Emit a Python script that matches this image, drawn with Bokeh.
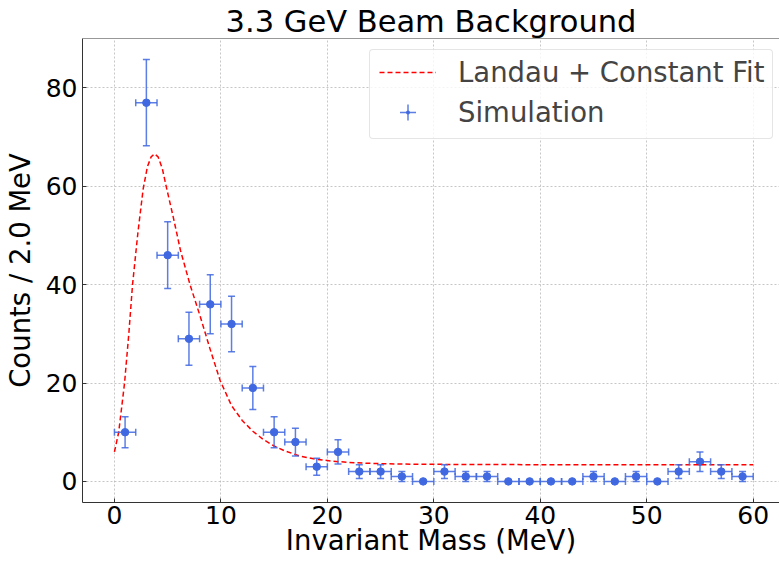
from bokeh.plotting import figure
from bokeh.models import (ColumnDataSource, Whisker, TeeHead, Legend, LegendItem,
                          Span, FixedTicker, Range1d)
from bokeh.embed import file_html
from bokeh.resources import INLINE

# ---- data ----
bin_width = 2.0
mass_centers = [1, 3, 5, 7, 9, 11, 13, 15, 17, 19, 21, 23, 25, 27, 29,
                31, 33, 35, 37, 39, 41, 43, 45, 47, 49, 51, 53, 55, 57, 59]
counts = [10, 77, 46, 29, 36, 32, 19, 10, 8, 3, 6, 2, 2, 1, 0,
          2, 1, 1, 0, 0, 0, 0, 1, 0, 1, 0, 2, 4, 2, 1]
count_err = [3.16, 8.77, 6.78, 5.39, 6.0, 5.66, 4.36, 3.16, 2.83, 1.73, 2.45, 1.41, 1.41, 1.0, 0.0,
             1.41, 1.0, 1.0, 0.0, 0.0, 0.0, 0.0, 1.0, 0.0, 1.0, 0.0, 1.41, 2.0, 1.41, 1.0]

fit_x = [0.0, 0.4, 0.95, 1.35, 1.7, 2.2, 2.7, 3.1, 3.45, 3.76, 4.1, 4.5, 4.86, 5.55, 6.2,
         7.1, 8.05, 9.0, 9.93, 11.0, 12.0, 13.0, 14.0, 15.0, 16.0, 17.5, 19.0, 20.5,
         22.5, 25.0, 28.0, 32.0, 40.0, 50.0, 60.0]
fit_y = [6.0, 10.0, 20.0, 30.0, 40.0, 50.5, 59.5, 64.0, 66.0, 66.6, 66.0, 63.6, 60.0, 53.5, 47.0,
         40.0, 33.6, 26.8, 20.5, 15.4, 12.4, 10.2, 8.5, 7.2, 6.2, 5.1, 4.5, 4.1,
         3.8, 3.6, 3.5, 3.45, 3.4, 3.4, 3.4]

x_ticks = [0, 10, 20, 30, 40, 50, 60]
y_ticks = [0, 20, 40, 60, 80]

FONT = "DejaVu Sans"
BLUE = "#4169E1"

half = bin_width / 2.0
src = ColumnDataSource(dict(
    x=mass_centers, y=counts,
    xl=[m - half for m in mass_centers], xu=[m + half for m in mass_centers],
    yl=[c - e for c, e in zip(counts, count_err)], yu=[c + e for c, e in zip(counts, count_err)],
))

y_end = 90.06
p = figure(width=779, height=562, output_backend="svg", toolbar_location=None,
           x_range=Range1d(-3.0, 62.47), y_range=Range1d(-4.29, y_end),
           title="3.3 GeV Beam Background",
           min_border_left=82, min_border_right=0, min_border_top=38, min_border_bottom=60)
p.outline_line_color = None
p.background_fill_color = "white"
p.border_fill_color = "white"

p.title.text_font = FONT
p.title.text_font_size = "30.5px"
p.title.text_font_style = "normal"
p.title.text_color = "black"
p.title.align = "center"
p.title.standoff = 0
p.title.offset = 3

# grid
p.grid.grid_line_color = "#b0b0b0"
p.grid.grid_line_dash = "2 2"
p.grid.grid_line_width = 0.8
p.grid.grid_line_alpha = 0.9

# axes
p.xaxis.ticker = FixedTicker(ticks=x_ticks)
p.yaxis.ticker = FixedTicker(ticks=y_ticks)
for ax in (p.xaxis, p.yaxis):
    ax.major_tick_in = 4
    ax.major_tick_out = 0
    ax.minor_tick_in = 0
    ax.minor_tick_out = 0
    ax.axis_line_color = "#333333"
    ax.major_tick_line_color = "#333333"
    ax.major_label_text_font = FONT
    ax.major_label_text_font_size = "25px"
    ax.major_label_text_color = "black"
    ax.axis_label_text_font = FONT
    ax.axis_label_text_font_size = "27.5px"
    ax.axis_label_text_font_style = "normal"
    ax.axis_label_text_color = "black"
p.xaxis.axis_label = "Invariant Mass (MeV)"
p.yaxis.axis_label = "Counts / 2.0 MeV"
p.xaxis.major_label_standoff = 3
p.xaxis.axis_label_standoff = -3
p.yaxis.major_label_standoff = 5
p.yaxis.axis_label_standoff = 7

# top spine
p.add_layout(Span(location=y_end, dimension="width", line_color="#333333", line_width=1))

# error bars
head_kw = dict(size=7, line_color=BLUE, line_alpha=0.85, line_width=1.5)
vw = Whisker(source=src, base="x", lower="yl", upper="yu", dimension="height",
             line_color=BLUE, line_alpha=0.85, line_width=1.5, level="glyph",
             upper_head=TeeHead(**head_kw), lower_head=TeeHead(**head_kw))
hw = Whisker(source=src, base="y", lower="xl", upper="xu", dimension="width",
             line_color=BLUE, line_alpha=0.85, line_width=1.5, level="glyph",
             upper_head=TeeHead(**head_kw), lower_head=TeeHead(**head_kw))
p.add_layout(vw)
p.add_layout(hw)

# legend-only icons (zero size on the plot, sized by the legend box)
leg_cross = p.scatter("x", "y", source=src, marker="cross", size=0,
                      line_color=BLUE, line_alpha=0.85, line_width=1.5)
leg_dot = p.scatter("x", "y", source=src, marker="dot", size=0,
                    line_color=BLUE, fill_color=BLUE, line_width=1)

pts = p.scatter("x", "y", source=src, size=7.5, marker="circle", color=BLUE)

fit = p.line(fit_x, fit_y, line_color="red", line_width=1.5, line_dash="5 3")

legend = Legend(items=[LegendItem(label="Landau + Constant Fit", renderers=[fit]),
                       LegendItem(label="Simulation", renderers=[leg_cross, leg_dot])],
                location=(287, 363), orientation="vertical",
                label_text_font=FONT, label_text_font_size="27.5px",
                glyph_width=57, glyph_height=40, label_standoff=22,
                label_width=314,
                padding=dict(left=9, right=0, top=2, bottom=6),
                spacing=0, margin=0,
                border_line_color="#cccccc", border_line_width=1,
                background_fill_alpha=0.8)
if "border_radius" in Legend.properties():
    legend.border_radius = 4
p.add_layout(legend, "center")

open("out.html", "w").write(file_html(p, INLINE))
